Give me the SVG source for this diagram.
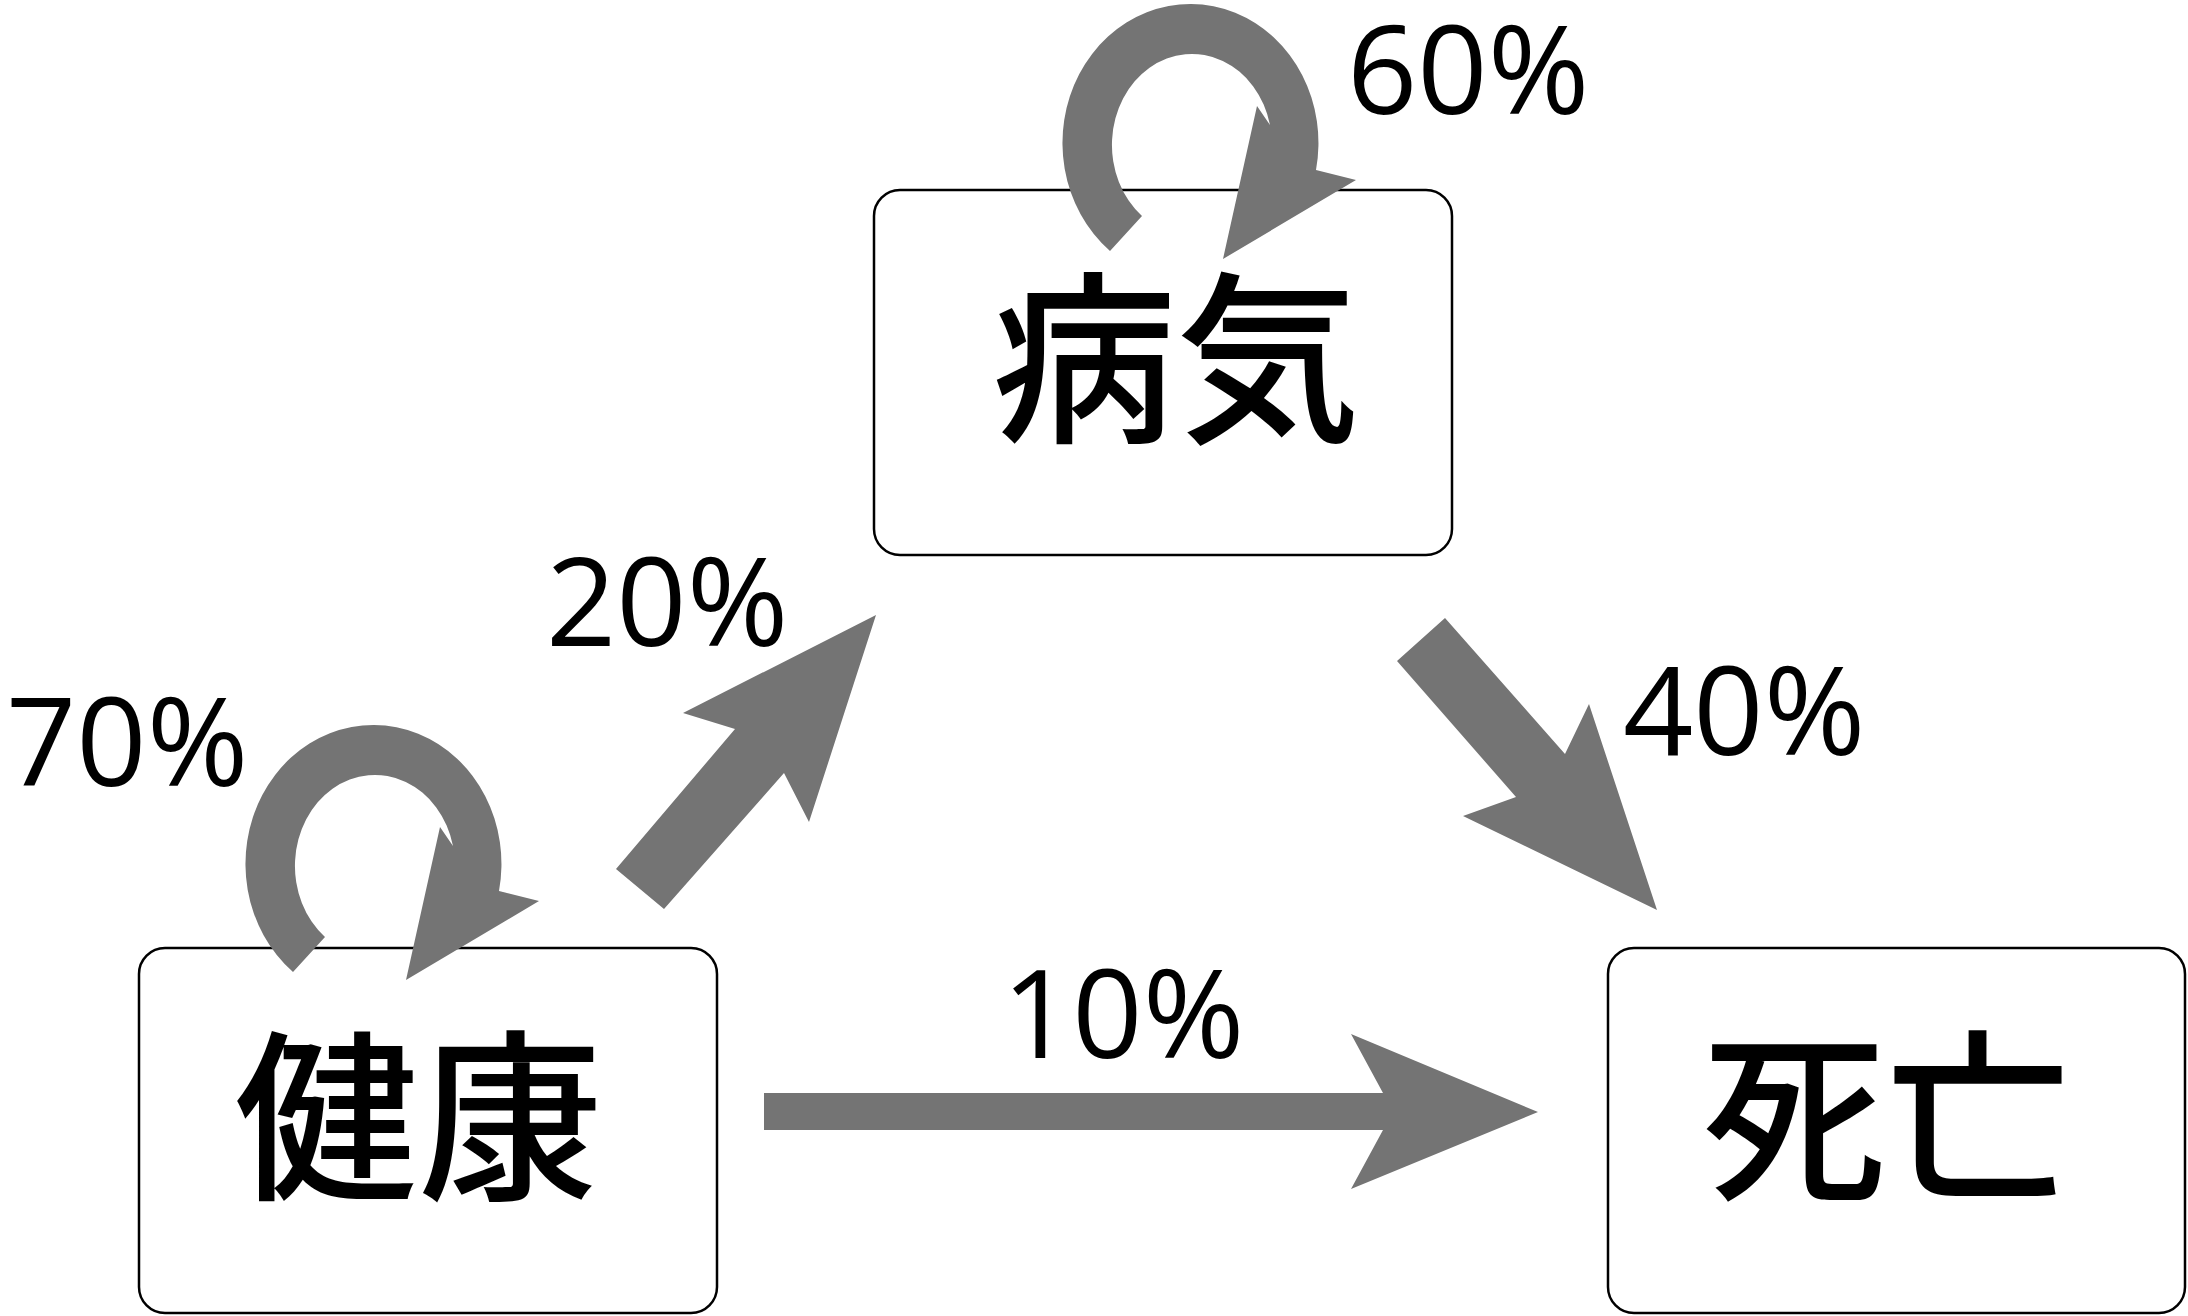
<svg xmlns="http://www.w3.org/2000/svg" xmlns:xlink="http://www.w3.org/1999/xlink" width="2188" height="1316" viewBox="0 0 2188 1316">
<style>
.box{fill:#ffffff;stroke:#000000;stroke-width:2.5}
.jp{font-family:"Noto Sans CJK JP","Noto Sans CJK SC",sans-serif;font-size:184px;font-weight:500;fill:#000000;text-anchor:middle}
.pct{font-family:"Open Sans","Liberation Sans",sans-serif;font-size:123px;fill:#000000}
.arrow{fill:#747474;stroke:none}
</style>
<defs>
<path id="loop" d="M-81,110 A128,139 0 1 1 125,29 L165,39 L32,118 L66,-35 L79,-16 A80,91 0 1 0 -49,75 Z"/>
</defs>
<rect width="2188" height="1316" fill="#ffffff"/>
<g id="node-health">
<rect class="box" x="139" y="948" width="578" height="365" rx="26" ry="26"/>
<text class="jp" x="418" y="1186">健康</text>
</g>
<g id="node-disease">
<rect class="box" x="874" y="190" width="578" height="365" rx="26" ry="26"/>
<text class="jp" x="1176" y="428">病気</text>
</g>
<g id="node-death">
<rect class="box" x="1608" y="948" width="577" height="365" rx="26" ry="26"/>
<text class="jp" x="1886" y="1186">死亡</text>
</g>
<g id="connectors">
<use class="arrow" xlink:href="#loop" href="#loop" transform="translate(374,862)"/>
<use class="arrow" xlink:href="#loop" href="#loop" transform="translate(1191,141)"/>
<polygon class="arrow" points="616,869 735,729 683,713 876,615 809,822 784,773 664,909"/>
<polygon class="arrow" points="1397,661 1445,618 1565,754 1589,704 1657,910 1463,816 1516,797"/>
<polygon class="arrow" points="764,1093 1383,1093 1351,1034 1538,1112 1351,1189 1383,1130 764,1130"/>
</g>
<g id="labels">
<text class="pct" x="6" y="786">70%</text>
<text class="pct" x="546" y="646">20%</text>
<text class="pct" x="1347" y="114">60%</text>
<text class="pct" x="1623" y="755">40%</text>
<text class="pct" x="1002" y="1058">10%</text>
</g>
</svg>
